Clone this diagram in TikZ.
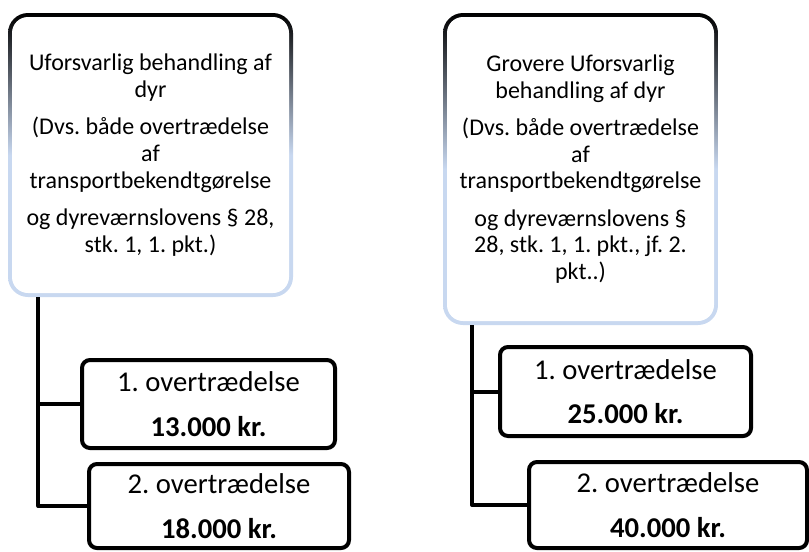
\documentclass[tikz,border=0pt]{standalone}
\usepackage{fontspec}
\setmainfont{Carlito}
\frenchspacing
\usetikzlibrary{positioning}

\definecolor{paleframe}{RGB}{200,216,240}

\begin{document}
\begin{tikzpicture}
    [
        x=0.75pt, y=-0.75pt,
        main_box/.style={rectangle, rounded corners=15pt, inner sep=0pt, align=center, font=\fontsize{18}{20}\selectfont,
            top color=black, bottom color=paleframe, middle color=paleframe,
            path picture={\fill[white, rounded corners=12pt] ([shift={(3pt,-3pt)}]path picture bounding box.north west) rectangle ([shift={(-3pt,3pt)}]path picture bounding box.south east);}},
        fine_box/.style={rectangle, draw=black, line width=3pt, rounded corners=6pt, fill=white, inner sep=0pt, align=center, font=\fontsize{21.5}{26}\selectfont},
        link/.style={line width=3pt, color=black, line join=round},
    ]
        \useasboundingbox (0,0) rectangle (809,551);
        \node[main_box, minimum width=213.75pt, minimum height=213pt] (rule1) at (150.5,155) {Uforsvarlig behandling af\\dyr\\[8pt](Dvs. både overtrædelse\\af\\transportbekendtgørelse\\[8pt]og dyreværnslovens § 28,\\stk. 1, 1. pkt.)} ;
        \node[main_box, minimum width=206.25pt, minimum height=234pt] (rule2) at (580.5,169) {Grovere Uforsvarlig\\behandling af dyr\\[8pt](Dvs. både overtrædelse\\af\\transportbekendtgørelse\\[8pt]og dyreværnslovens §\\28, stk. 1, 1. pkt., jf. 2.\\pkt..)} ;
        \node[fine_box, minimum width=189.75pt, minimum height=66pt] (fine1a) at (208.5,404) {1. overtrædelse\\[7.5pt]\textbf{13.000 kr.}} ;
        \node[fine_box, minimum width=195pt, minimum height=63pt] (fine1b) at (219,506) {2. overtrædelse\\[7.5pt]\textbf{18.000 kr.}} ;
        \node[fine_box, minimum width=188.25pt, minimum height=66.75pt] (fine2a) at (625.5,391.5) {1. overtrædelse\\[7.5pt]\textbf{25.000 kr.}} ;
        \node[fine_box, minimum width=208.5pt, minimum height=64.5pt] (fine2b) at (668,505) {2. overtrædelse\\[7.5pt]\textbf{40.000 kr.}} ;
        \draw[link] ([xshift=23pt]rule1.south west) |- (fine1a.west) ;
        \draw[link] ([xshift=23pt]rule1.south west) |- (fine1b.west) ;
        \draw[link] ([xshift=22pt]rule2.south west) |- (fine2a.west) ;
        \draw[link] ([xshift=22pt]rule2.south west) |- (fine2b.west) ;
    \end{tikzpicture}
\end{document}
